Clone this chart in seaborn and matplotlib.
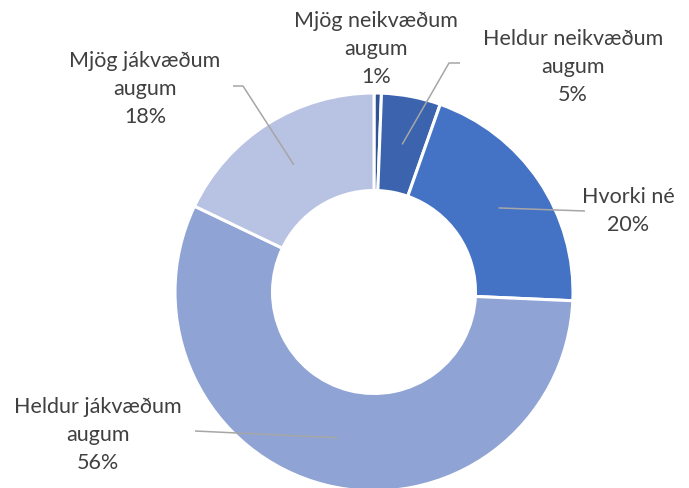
import numpy as np
import matplotlib
matplotlib.use("Agg")
import matplotlib.pyplot as plt
import seaborn as sns

# ── Data ─────────────────────────────────────────────────────
labels = ["Mjög neikvæðum\naugum", "Heldur neikvæðum\naugum", "Hvorki né",
          "Heldur jákvæðum\naugum", "Mjög jákvæðum\naugum"]
values = [0.6, 4.8, 20.3, 56.4, 17.9]
colors = ["#2F5597", "#3C64AE", "#4472C4", "#8FA3D4", "#B8C3E3"]

# label text centres (pixels from top-left) and leader elbows
label_px = [(376, 49), (573, 67), (628, 211), (98, 435), (145, 89)]
elbow_px = [None, [(449, 63), (460, 63)], [(585, 211)], [(195, 431)], [(243, 86), (233, 86)]]

sns.set_theme(style="white")
plt.rcParams['font.family'] = ['Lato', 'DejaVu Sans']

W, H, dpi = 689, 488, 100
R = 199.0
cx, cy = 374.0, 292.0

fig = plt.figure(figsize=(W / dpi, H / dpi), dpi=dpi)
ax = fig.add_axes([0, 0, 1, 1])


def px(p):
    return ((p[0] - cx) / R, (cy - p[1]) / R)


wedges, _ = ax.pie(values, colors=colors, startangle=90, counterclock=False,
                   radius=1.0,
                   wedgeprops=dict(width=0.49, edgecolor='white', linewidth=2.2))

total = sum(values)
cum = 0
for i, v in enumerate(values):
    mid = cum + v / 2
    cum += v
    ang = np.deg2rad(90 - 360 * mid / total)
    r = 0.755
    ax_pt = (r * np.cos(ang), r * np.sin(ang))
    if elbow_px[i] is not None:
        pts = [ax_pt] + [px(p) for p in elbow_px[i]]
        xs, ys = zip(*pts)
        ax.plot(xs, ys, color="#A6A6A6", lw=1.1, solid_capstyle='butt')
    tx, ty = px(label_px[i])
    ax.text(tx, ty, f"{labels[i]}\n{round(v)}%", ha='center', va='center',
            fontsize=15.5, color="#404040", linespacing=1.48)

ax.set_xlim(-cx / R, (W - cx) / R)
ax.set_ylim(-(H - cy) / R, cy / R)
ax.set_aspect('equal')
ax.axis('off')

fig.savefig("out.png", dpi=dpi, facecolor='white')
